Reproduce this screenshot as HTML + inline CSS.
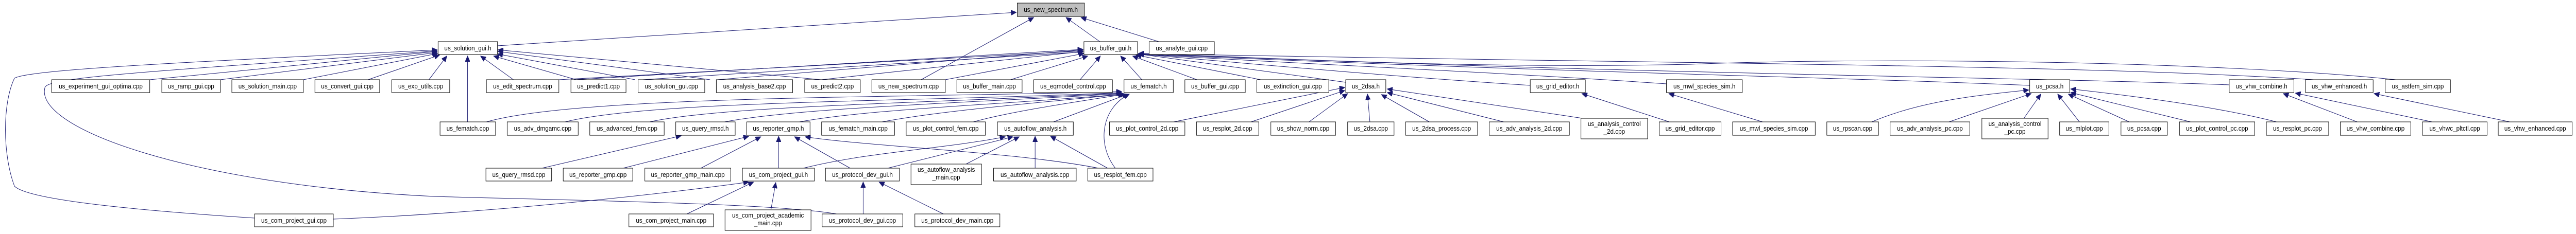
<!DOCTYPE html>
<html><head><meta charset="utf-8"><style>
html,body{margin:0;padding:0;background:#fff;overflow:hidden;width:100%;height:100%;}
svg{display:block;width:100%;height:100%;}
text{font-family:"Liberation Sans",Arial,sans-serif;font-size:12.5px;fill:#000;text-anchor:middle;}
rect{fill:#fff;stroke:#000;stroke-width:1;}
path{fill:none;stroke:#191970;stroke-width:1;}
</style></head><body>
<svg viewBox="0 0 5333 455" preserveAspectRatio="none" xmlns="http://www.w3.org/2000/svg">
<defs><marker id="a" markerUnits="userSpaceOnUse" markerWidth="12" markerHeight="10" refX="11" refY="5" orient="auto"><path d="M0,0 L11,5 L0,10 Z" style="fill:#191970;stroke:#191970"/></marker></defs>
<g marker-end="url(#a)">
<path d="M1030,89 L2104,24"/>
<path d="M1907,155 L2140,34"/>
<path d="M2277,81 L2207,34"/>
<path d="M2399,81 L2238,34"/>
<path d="M310,155 L905,100"/>
<path d="M456,155 L905,102"/>
<path d="M628,155 L906,104"/>
<path d="M762,155 L910,107"/>
<path d="M888,155 L925,109"/>
<path d="M1063,155 L995,109"/>
<path d="M1193,155 L1022,109"/>
<path d="M1315,155 L1030,105"/>
<path d="M1470,155 L1031,100"/>
<path d="M1700,155 L1031,97"/>
<path d="M968,237 L968,109"/>
<path d="M527,424 C300,410 60,390 30,362 C5,300 5,200 30,152 C60,135 400,120 905,97"/>
<path d="M1732,416 C1600,395 1200,390 900,382 C400,360 70,250 93,170 C100,150 300,140 905,99"/>
<path d="M1157,155 L2242,99"/>
<path d="M1190,155 L2242,96"/>
<path d="M1330,155 L2242,101"/>
<path d="M1485,155 L2242,97"/>
<path d="M1700,155 L2242,100"/>
<path d="M1957,155 L2244,104"/>
<path d="M2092,155 L2252,109"/>
<path d="M2236,155 L2278,109"/>
<path d="M2364,155 L2320,109"/>
<path d="M2478,155 L2345,109"/>
<path d="M2610,155 L2352,107"/>
<path d="M2786,160 L2357,105"/>
<path d="M3168,166 C2900,150 2600,125 2357,105"/>
<path d="M3450,163 C3100,140 2600,120 2357,105"/>
<path d="M4202,166 C3800,150 3200,140 2357,105"/>
<path d="M4615,165 C4200,150 3400,145 2357,104"/>
<path d="M4790,155 C4300,125 3500,125 2357,104"/>
<path d="M4960,155 C4600,120 3900,110 3500,125 C3000,135 2600,110 2357,104"/>
<path d="M1007,237 C1200,185 1900,190 2322,178"/>
<path d="M1170,237 C1350,195 1900,198 2322,180"/>
<path d="M1345,237 C1500,205 1950,200 2322,181"/>
<path d="M1500,237 C1650,210 2000,200 2325,182"/>
<path d="M1655,237 C1800,212 2050,205 2327,183"/>
<path d="M1826,237 C1950,215 2150,200 2328,183"/>
<path d="M2015,237 C2100,215 2250,195 2330,183"/>
<path d="M2181,237 L2335,183"/>
<path d="M2309,327 C2270,280 2280,210 2338,183"/>
<path d="M2430,237 L2784,170"/>
<path d="M2590,237 L2784,176"/>
<path d="M2710,237 L2790,182"/>
<path d="M2836,237 L2831,183"/>
<path d="M2959,237 L2860,184"/>
<path d="M3113,237 L2872,180"/>
<path d="M3290,232 L2872,173"/>
<path d="M3456,237 L3275,182"/>
<path d="M3649,237 L3455,182"/>
<path d="M3875,237 C3980,195 4100,185 4200,175"/>
<path d="M4035,237 L4205,182"/>
<path d="M4190,230 L4225,183"/>
<path d="M4305,237 L4260,183"/>
<path d="M4408,237 L4282,183"/>
<path d="M4535,237 L4287,180"/>
<path d="M4713,237 C4600,210 4450,190 4287,173"/>
<path d="M4880,237 L4727,182"/>
<path d="M5035,237 L4752,181"/>
<path d="M5196,237 L4915,182"/>
<path d="M1122,327 L1410,264"/>
<path d="M1290,327 L1550,265"/>
<path d="M1451,327 L1575,266"/>
<path d="M1612,327 L1612,265"/>
<path d="M1760,327 L1645,266"/>
<path d="M2274,327 C2100,295 1800,285 1667,266"/>
<path d="M1663,327 C1800,295 1950,290 2081,266"/>
<path d="M1838,327 L2097,266"/>
<path d="M2000,319 L2110,266"/>
<path d="M2143,327 L2143,265"/>
<path d="M2293,327 L2175,265"/>
<path d="M1422,416 L1560,354"/>
<path d="M1596,408 L1606,355"/>
<path d="M690,426 C1000,415 1350,380 1550,354"/>
<path d="M1787,416 L1787,354"/>
<path d="M1953,416 L1820,354"/>
</g>
<rect x="2106" y="6" width="139" height="26" style="fill:#bfbfbf"/><text x="2175.5" y="23">us_new_spectrum.h</text>
<rect x="907" y="81" width="123" height="25"/><text x="968.5" y="98">us_solution_gui.h</text>
<rect x="2244" y="81" width="111" height="25"/><text x="2299.5" y="98">us_buffer_gui.h</text>
<rect x="2379" y="81" width="135" height="25"/><text x="2446.5" y="98">us_analyte_gui.cpp</text>
<g transform="translate(0,155)">
<rect x="107" y="0" width="203" height="25"/><text x="208.5" y="17">us_experiment_gui_optima.cpp</text>
<rect x="335" y="0" width="121" height="25"/><text x="395.5" y="17">us_ramp_gui.cpp</text>
<rect x="480" y="0" width="148" height="25"/><text x="554" y="17">us_solution_main.cpp</text>
<rect x="652" y="0" width="134" height="25"/><text x="719" y="17">us_convert_gui.cpp</text>
<rect x="811" y="0" width="120" height="25"/><text x="871" y="17">us_exp_utils.cpp</text>
<rect x="1007" y="0" width="150" height="25"/><text x="1082" y="17">us_edit_spectrum.cpp</text>
<rect x="1182" y="0" width="114" height="25"/><text x="1239" y="17">us_predict1.cpp</text>
<rect x="1321" y="0" width="138" height="25"/><text x="1390" y="17">us_solution_gui.cpp</text>
<rect x="1483" y="0" width="158" height="25"/><text x="1562" y="17">us_analysis_base2.cpp</text>
<rect x="1666" y="0" width="115" height="25"/><text x="1723.5" y="17">us_predict2.cpp</text>
<rect x="1805" y="0" width="152" height="25"/><text x="1881" y="17">us_new_spectrum.cpp</text>
<rect x="1981" y="0" width="135" height="25"/><text x="2048.5" y="17">us_buffer_main.cpp</text>
<rect x="2140" y="0" width="163" height="25"/><text x="2221.5" y="17">us_eqmodel_control.cpp</text>
<rect x="2327" y="0" width="102" height="25"/><text x="2378" y="17">us_fematch.h</text>
<rect x="2453" y="0" width="125" height="25"/><text x="2515.5" y="17">us_buffer_gui.cpp</text>
<rect x="2602" y="0" width="149" height="25"/><text x="2676.5" y="17">us_extinction_gui.cpp</text>
<rect x="2786" y="0" width="83" height="25"/><text x="2827.5" y="17">us_2dsa.h</text>
<rect x="3168" y="0" width="114" height="25"/><text x="3225" y="17">us_grid_editor.h</text>
<rect x="3450" y="0" width="157" height="25"/><text x="3528.5" y="17">us_mwl_species_sim.h</text>
<rect x="4202" y="0" width="83" height="25"/><text x="4243.5" y="17">us_pcsa.h</text>
<rect x="4615" y="0" width="134" height="25"/><text x="4682" y="17">us_vhw_combine.h</text>
<rect x="4773" y="0" width="140" height="25"/><text x="4843" y="17">us_vhw_enhanced.h</text>
<rect x="4938" y="0" width="135" height="25"/><text x="5005.5" y="17">us_astfem_sim.cpp</text>
</g>
<g transform="translate(0,237)">
<rect x="911" y="0" width="115" height="26"/><text x="968.5" y="17">us_fematch.cpp</text>
<rect x="1050" y="0" width="147" height="26"/><text x="1123.5" y="17">us_adv_dmgamc.cpp</text>
<rect x="1221" y="0" width="154" height="26"/><text x="1298" y="17">us_advanced_fem.cpp</text>
<rect x="1399" y="0" width="123" height="26"/><text x="1460.5" y="17">us_query_rmsd.h</text>
<rect x="1546" y="0" width="131" height="26"/><text x="1611.5" y="17">us_reporter_gmp.h</text>
<rect x="1701" y="0" width="151" height="26"/><text x="1776.5" y="17">us_fematch_main.cpp</text>
<rect x="1876" y="0" width="164" height="26"/><text x="1958" y="17">us_plot_control_fem.cpp</text>
<rect x="2065" y="0" width="157" height="26"/><text x="2143.5" y="17">us_autoflow_analysis.h</text>
<rect x="2297" y="0" width="156" height="26"/><text x="2375" y="17">us_plot_control_2d.cpp</text>
<rect x="2477" y="0" width="129" height="26"/><text x="2541.5" y="17">us_resplot_2d.cpp</text>
<rect x="2631" y="0" width="134" height="26"/><text x="2698" y="17">us_show_norm.cpp</text>
<rect x="2790" y="0" width="96" height="26"/><text x="2838" y="17">us_2dsa.cpp</text>
<rect x="2910" y="0" width="149" height="26"/><text x="2984.5" y="17">us_2dsa_process.cpp</text>
<rect x="3083" y="0" width="166" height="26"/><text x="3166" y="17">us_adv_analysis_2d.cpp</text>
<rect x="3273" y="-7" width="138" height="40"/><text x="3342" y="8">us_analysis_control</text><text x="3342" y="23">_2d.cpp</text>
<rect x="3435" y="0" width="128" height="26"/><text x="3499" y="17">us_grid_editor.cpp</text>
<rect x="3587" y="0" width="171" height="26"/><text x="3672.5" y="17">us_mwl_species_sim.cpp</text>
<rect x="3782" y="0" width="107" height="26"/><text x="3835.5" y="17">us_rpscan.cpp</text>
<rect x="3913" y="0" width="165" height="26"/><text x="3995.5" y="17">us_adv_analysis_pc.cpp</text>
<rect x="4103" y="-7" width="137" height="40"/><text x="4171.5" y="8">us_analysis_control</text><text x="4171.5" y="23">_pc.cpp</text>
<rect x="4264" y="0" width="102" height="26"/><text x="4315" y="17">us_mlplot.cpp</text>
<rect x="4391" y="0" width="96" height="26"/><text x="4439" y="17">us_pcsa.cpp</text>
<rect x="4512" y="0" width="156" height="26"/><text x="4590" y="17">us_plot_control_pc.cpp</text>
<rect x="4692" y="0" width="129" height="26"/><text x="4756.5" y="17">us_resplot_pc.cpp</text>
<rect x="4845" y="0" width="146" height="26"/><text x="4918" y="17">us_vhw_combine.cpp</text>
<rect x="5015" y="0" width="134" height="26"/><text x="5082" y="17">us_vhwc_pltctl.cpp</text>
<rect x="5172" y="0" width="153" height="26"/><text x="5248.5" y="17">us_vhw_enhanced.cpp</text>
</g>
<g transform="translate(0,327)">
<rect x="1006" y="0" width="136" height="25"/><text x="1074" y="17">us_query_rmsd.cpp</text>
<rect x="1166" y="0" width="144" height="25"/><text x="1238" y="17">us_reporter_gmp.cpp</text>
<rect x="1335" y="0" width="178" height="25"/><text x="1424" y="17">us_reporter_gmp_main.cpp</text>
<rect x="1537" y="0" width="149" height="25"/><text x="1611.5" y="17">us_com_project_gui.h</text>
<rect x="1709" y="0" width="153" height="25"/><text x="1785.5" y="17">us_protocol_dev_gui.h</text>
<rect x="1886" y="-8" width="146" height="40"/><text x="1959" y="7">us_autoflow_analysis</text><text x="1959" y="22">_main.cpp</text>
<rect x="2057" y="0" width="171" height="25"/><text x="2142.5" y="17">us_autoflow_analysis.cpp</text>
<rect x="2252" y="0" width="135" height="25"/><text x="2319.5" y="17">us_resplot_fem.cpp</text>
</g>
<g transform="translate(0,416)">
<rect x="527" y="0" width="163" height="25"/><text x="608.5" y="17">us_com_project_gui.cpp</text>
<rect x="1302" y="0" width="175" height="25"/><text x="1389.5" y="17">us_com_project_main.cpp</text>
<rect x="1501" y="-8" width="178" height="40"/><text x="1590" y="7">us_com_project_academic</text><text x="1590" y="22">_main.cpp</text>
<rect x="1702" y="0" width="167" height="25"/><text x="1785.5" y="17">us_protocol_dev_gui.cpp</text>
<rect x="1894" y="0" width="176" height="25"/><text x="1982" y="17">us_protocol_dev_main.cpp</text>
</g>
</svg>
</body></html>
